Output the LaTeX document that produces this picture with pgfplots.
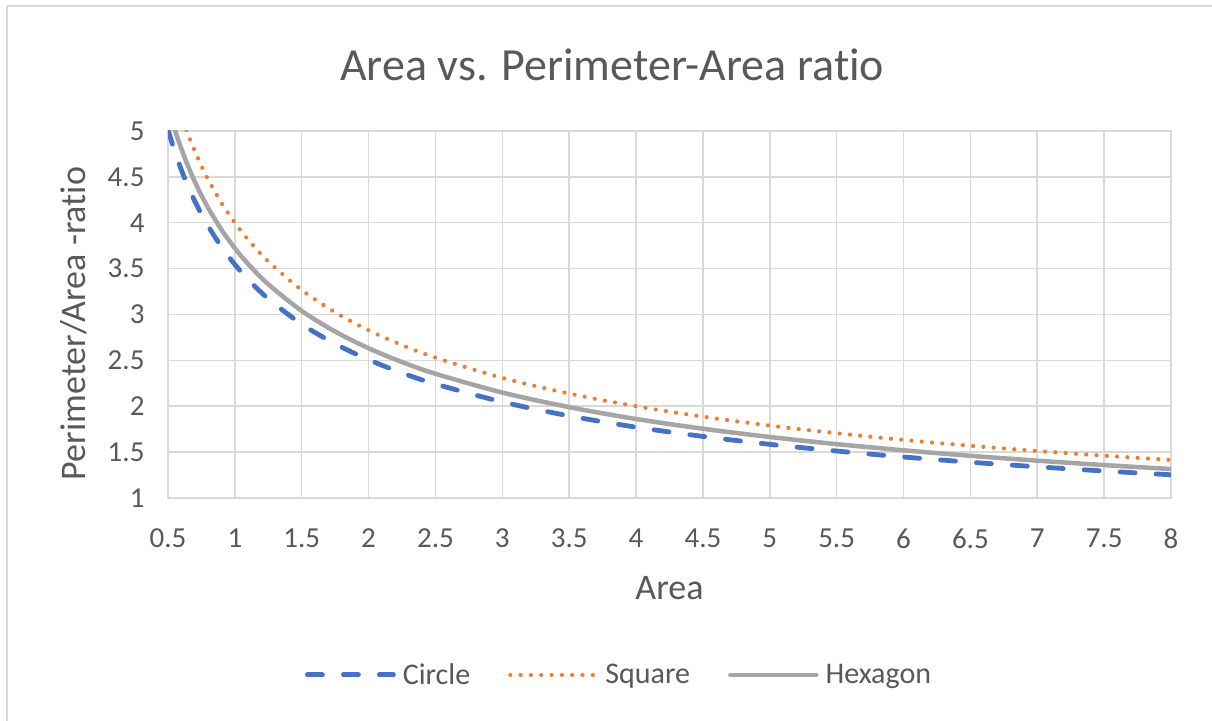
\documentclass[border=0pt]{standalone}
\usepackage{pgfplots}
\pgfplotsset{compat=1.18}
\usepackage{pgfplotstable}
\usepackage{fontspec}
\setmainfont{Carlito}[Ligatures={NoCommon}]
\definecolor{cblue}{HTML}{4472C4}
\definecolor{corange}{HTML}{ED7D31}
\definecolor{cgray}{HTML}{A5A5A5}
\definecolor{gridc}{HTML}{D9D9D9}
\definecolor{txt}{HTML}{595959}
\newcommand{\yl}[1]{#1\hspace*{20pt}}

\pgfplotstableread{
A circle square hexagon
0.5 5.013 5.657 5.264
0.55 4.780 5.394 5.019
0.6 4.576 5.164 4.806
0.65 4.397 4.961 4.617
0.7 4.237 4.781 4.449
0.75 4.093 4.619 4.298
0.8 3.963 4.472 4.162
0.9 3.737 4.216 3.924
1 3.545 4.000 3.722
1.1 3.380 3.814 3.549
1.25 3.171 3.578 3.329
1.5 2.894 3.266 3.039
1.75 2.680 3.024 2.814
2 2.507 2.828 2.632
2.25 2.363 2.667 2.482
2.5 2.242 2.530 2.354
3 2.047 2.309 2.149
3.5 1.895 2.138 1.990
4 1.772 2.000 1.861
4.5 1.671 1.886 1.755
5 1.585 1.789 1.665
5.5 1.512 1.706 1.587
6 1.447 1.633 1.520
6.5 1.390 1.569 1.460
7 1.340 1.512 1.407
7.5 1.294 1.461 1.359
8 1.253 1.414 1.316
}\datatable

\begin{document}
\begin{tikzpicture}[x=1pt,y=1pt]
\useasboundingbox (0,0) rectangle (1212,720);
\fill[white] (0,0) rectangle (1212,720);
\draw[gridc, line width=2pt] (7,-20) rectangle (1240,714);
\node[txt, font=\fontsize{46}{52}\selectfont] at (612,655) {Area vs. Perimeter-Area ratio};
\begin{axis}[
  at={(168pt,222pt)}, anchor=south west,
  scale only axis, width=1003pt, height=367pt,
  xmin=0.5, xmax=8, ymin=1, ymax=5,
  xtick={0.5,1,...,8}, ytick={1,1.5,...,5},
  xticklabels={0.5,1,1.5,2,2.5,3,3.5,4,4.5,5,5.5,6,6.5,7,7.5,8},
  yticklabels={\yl{1},\yl{1.5},\yl{2},\yl{2.5},\yl{3},\yl{3.5},\yl{4},\yl{4.5},\yl{5}},
  grid=major,
  major grid style={gridc, line width=1.5pt},
  axis line style={gridc, line width=1.5pt},
  tick style={draw=none},
  ticklabel style={txt, font=\fontsize{29}{34}\selectfont},
  xticklabel style={yshift=-27pt},
  xlabel={Area},
  ylabel={Perimeter/Area -ratio},
  label style={txt, font=\fontsize{36}{42}\selectfont},
  xlabel style={at={(rel axis cs:0.5,0)}, anchor=center, yshift=-90pt},
  ylabel style={at={(rel axis cs:0,0.5)}, anchor=center, xshift=-9pt, yshift=94pt},
  legend columns=3,
  legend style={at={(0.4497,-0.482)}, anchor=center, draw=none, fill=none,
    font=\fontsize{30}{36}\selectfont, text=txt,
    /tikz/every even column/.append style={column sep=36pt},
    /tikz/every odd column/.append style={column sep=5pt},
    inner sep=0pt},
  legend cell align=left,
  legend image code/.code={\draw[#1] (2pt,0pt) -- (88pt,0pt);},
]
\addplot[cblue, line width=4.8pt, dash pattern=on 15pt off 21pt, line cap=round, smooth] table[x=A, y=circle] {\datatable};
\addlegendentry{Circle}
\addplot[corange, line width=4.2pt, dash pattern=on 0.01pt off 10.3pt, line cap=round, smooth] table[x=A, y=square] {\datatable};
\addlegendentry{Square}
\addplot[cgray, line width=4.5pt, line cap=round, smooth] table[x=A, y=hexagon] {\datatable};
\addlegendentry{Hexagon}
\end{axis}
\end{tikzpicture}
\end{document}
